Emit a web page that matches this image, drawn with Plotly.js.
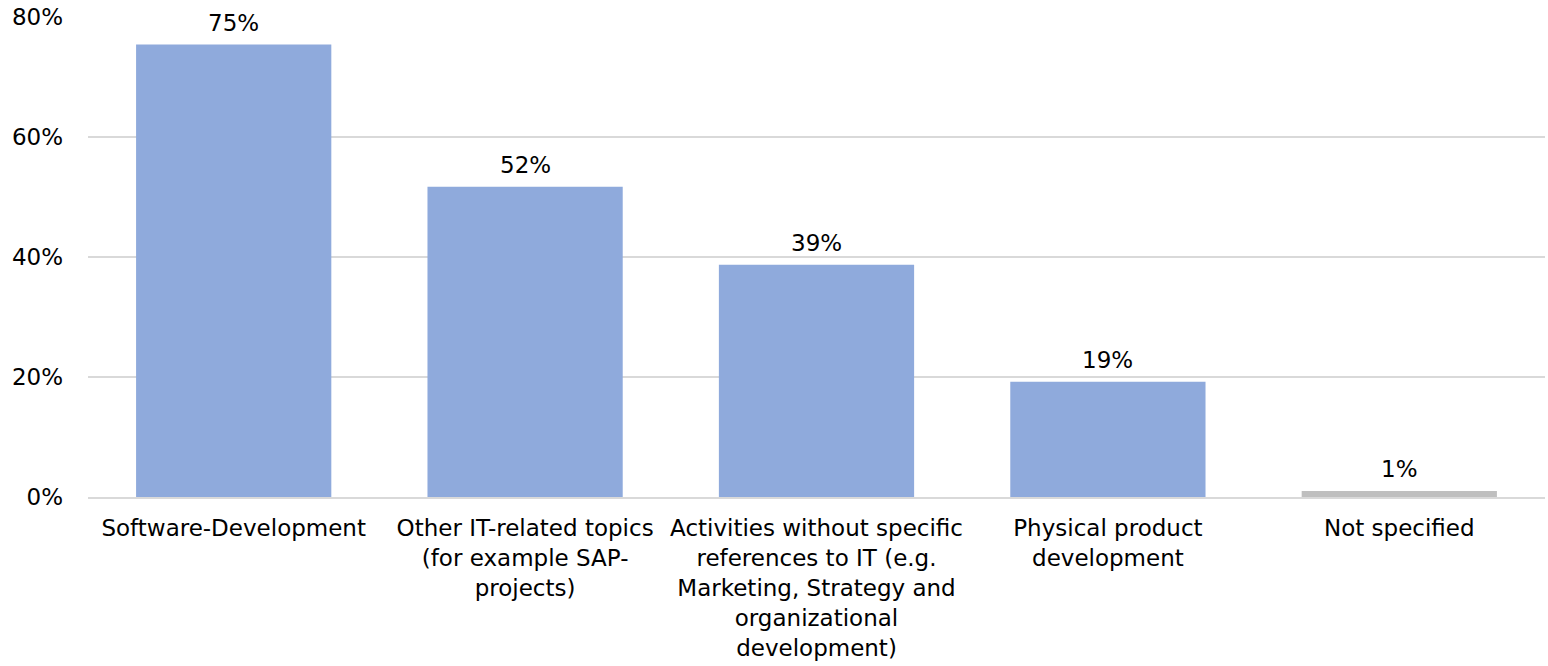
<!DOCTYPE html>
<html>
<head>
<meta charset="utf-8">
<script src="https://cdn.plot.ly/plotly-3.0.1.min.js"></script>
<style>html,body{margin:0;padding:0;background:#fff;}#chart{width:1548px;height:666px;}</style>
</head>
<body>
<div id="chart"></div>
<script>
var categories = [
  "Software-Development",
  "Other IT-related topics<br>(for example SAP-<br>projects)",
  "Activities without specific<br>references to IT (e.g.<br>Marketing, Strategy and<br>organizational<br>development)",
  "Physical product<br>development",
  "Not specified"
];
var values = [75.4, 51.7, 38.7, 19.2, 1.0];
var labels = ["75%", "52%", "39%", "19%", "1%"];
var barColors = ["#8FAADC", "#8FAADC", "#8FAADC", "#8FAADC", "#BFBFBF"];
var yTickVals = [0, 20, 40, 60, 80];
var yTickText = ["0%", "20%", "40%", "60%", "80%"];

var FONT = "DejaVu Sans, Liberation Sans, Arial, sans-serif";
var FS = 23;

var trace = {
  type: "bar",
  x: categories,
  y: values,
  marker: {color: barColors},
  width: 0.67,
  hoverinfo: "skip"
};

var annotations = categories.map(function (c, i) {
  return {
    x: c, y: values[i], xref: "x", yref: "y",
    text: labels[i], showarrow: false,
    yanchor: "bottom", yshift: 7,
    font: {family: FONT, size: FS, color: "#000"}
  };
});

var layout = {
  width: 1548,
  height: 666,
  margin: {l: 88, r: 3, t: 17, b: 169},
  paper_bgcolor: "#fff",
  plot_bgcolor: "#fff",
  showlegend: false,
  font: {family: FONT, size: FS, color: "#000"},
  annotations: annotations,
  xaxis: {
    type: "category",
    showgrid: false,
    showline: true,
    linecolor: "#D9D9D9",
    linewidth: 1.5,
    ticks: "",
    tickangle: 0,
    ticklabelstandoff: 10,
    tickfont: {family: FONT, size: FS, color: "#000"},
    automargin: false
  },
  yaxis: {
    range: [0, 80],
    tickvals: yTickVals,
    ticktext: yTickText,
    showgrid: true,
    gridcolor: "#D9D9D9",
    gridwidth: 1.5,
    zeroline: false,
    showline: false,
    ticks: "",
    ticklabelstandoff: 24,
    tickfont: {family: FONT, size: FS, color: "#000"},
    automargin: false
  },
  bargap: 0.33
};

Plotly.newPlot("chart", [trace], layout, {staticPlot: true, displayModeBar: false});
</script>
</body>
</html>
